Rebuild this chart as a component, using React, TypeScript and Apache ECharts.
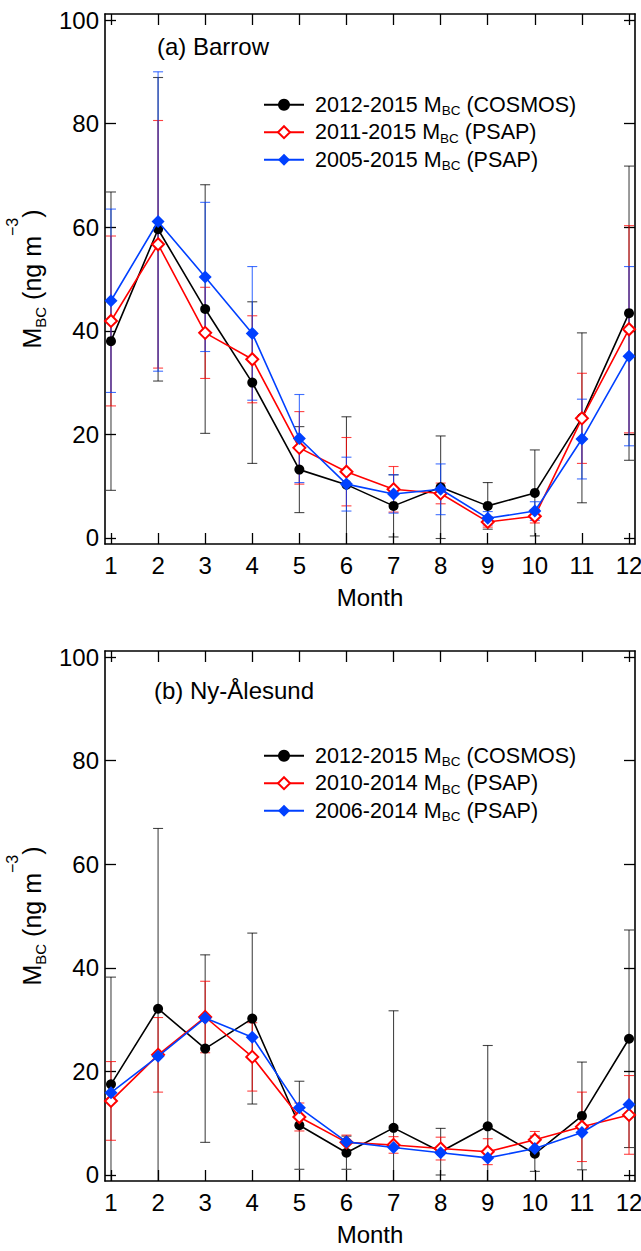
import React, { useEffect, useRef } from 'react';
import * as echarts from 'echarts';

// ---------- data ----------
const months = [1, 2, 3, 4, 5, 6, 7, 8, 9, 10, 11, 12];
const yTicks = [0, 20, 40, 60, 80, 100];

// (a) Barrow
const barrowCosmos = [38.0, 59.6, 44.2, 30.0, 13.2, 10.3, 6.2, 9.8, 6.2, 8.7, 23.2, 43.4];
const barrowCosmosSd = [28.8, 29.3, 24.0, 15.6, 8.3, 13.1, 6.0, 9.9, 4.5, 8.3, 16.4, 28.4];
const barrowPsapA = [41.9, 56.7, 39.6, 34.5, 17.4, 12.8, 9.4, 8.6, 3.1, 4.2, 23.1, 40.3];
const barrowPsapASd = [16.4, 23.9, 8.8, 8.4, 7.0, 6.6, 4.4, 2.0, 1.0, 1.3, 8.7, 20.0];
const barrowPsapB = [45.8, 61.1, 50.4, 39.5, 19.2, 10.4, 8.5, 9.4, 3.8, 5.2, 19.1, 35.1];
const barrowPsapBSd = [17.7, 28.9, 14.4, 12.9, 8.5, 5.2, 3.7, 4.9, 1.3, 1.8, 7.7, 17.3];

// (b) Ny-Ålesund
const nyCosmos = [17.5, 32.1, 24.4, 30.2, 9.6, 4.3, 9.1, 4.5, 9.4, 4.1, 11.4, 26.3];
const nyCosmosSd = [20.7, 34.8, 18.1, 16.5, 8.5, 3.2, 22.6, 4.5, 15.6, 3.4, 10.4, 21.0];
const nyPsapA = [14.3, 23.2, 30.5, 22.8, 11.2, 6.3, 5.8, 5.1, 4.5, 6.8, 9.3, 11.6];
const nyPsapASd = [7.6, 7.2, 6.9, 6.6, 2.7, 1.4, 1.6, 2.2, 2.5, 1.6, 6.7, 7.6];
const nyPsapB = [15.9, 22.9, 30.3, 26.6, 13.0, 6.4, 5.3, 4.3, 3.3, 5.1, 8.2, 13.6];

const legendPeriodsA = ['2012-2015', '2011-2015', '2005-2015'];
const legendPeriodsB = ['2012-2015', '2010-2014', '2006-2014'];
const legendInstruments = ['COSMOS', 'PSAP', 'PSAP'];
const panelTitles = ['(a) Barrow', '(b) Ny-Ålesund'];

// ---------- styling ----------
const FONT = '"Liberation Sans", Arial, Helvetica, sans-serif';
const BLACK = '#000000';
const RED = '#ff0000';
const BLUE = '#0040ff';
const ERR_BLACK = 'rgba(0,0,0,0.72)';
const ERR_RED = 'rgba(255,0,0,0.75)';
const ERR_BLUE = 'rgba(0,64,255,0.75)';
const X_MIN = 0.873;
const X_MAX = 12.127;
const Y_MIN = -1.16;
const Y_MAX = 101.16;

const axisLineStyle = { color: '#000', width: 1.6 };
const tickLineStyle = { color: '#000', width: 1.3 };

function makeXAxes(gridIndex: number) {
  const base: any = {
    type: 'value',
    gridIndex,
    min: X_MIN,
    max: X_MAX,
    splitLine: { show: false },
    axisLine: { show: true, onZero: false, lineStyle: axisLineStyle },
    axisTick: { show: true, inside: true, length: 11, customValues: months, lineStyle: tickLineStyle },
  };
  return [
    {
      ...base,
      position: 'bottom',
      axisLabel: { customValues: months, fontSize: 24, color: '#000', margin: 9, fontFamily: FONT },
      name: 'Month',
      nameLocation: 'middle',
      nameGap: 41,
      nameTextStyle: { fontSize: 24, color: '#000', fontFamily: FONT },
    },
    { ...base, position: 'top', axisLabel: { show: false } },
  ];
}

function makeYAxes(gridIndex: number) {
  const base: any = {
    type: 'value',
    gridIndex,
    min: Y_MIN,
    max: Y_MAX,
    splitLine: { show: false },
    axisLine: { show: true, onZero: false, lineStyle: axisLineStyle },
    axisTick: { show: true, inside: true, length: 11, customValues: yTicks, lineStyle: tickLineStyle },
  };
  return [
    {
      ...base,
      position: 'left',
      axisLabel: { customValues: yTicks, fontSize: 24, color: '#000', margin: 6, fontFamily: FONT },
      name: '{m|M}{s|BC}{m| (ng m}{p|−3}{m|)}',
      nameLocation: 'middle',
      nameRotate: 90,
      nameGap: 40,
      nameTextStyle: {
        rich: {
          m: { fontSize: 25, lineHeight: 56, color: '#000', fontFamily: FONT },
          s: { fontSize: 15, verticalAlign: 'bottom', padding: [0, 0, 12, 0], color: '#000', fontFamily: FONT },
          p: { fontSize: 16, lineHeight: 16, verticalAlign: 'top', color: '#000', fontFamily: FONT },
        },
      },
    },
    { ...base, position: 'right', axisLabel: { show: false } },
  ];
}

function errSeries(name: string, mean: number[], sd: number[], color: string, axisIdx: number) {
  return {
    type: 'custom',
    name,
    xAxisIndex: axisIdx,
    yAxisIndex: axisIdx,
    clip: true,
    z: 1,
    encode: { x: 0, y: [1, 2] },
    data: months.map((m, i) => [m, mean[i] - sd[i], mean[i] + sd[i]]),
    renderItem: (params: any, api: any) => {
      const x = api.value(0);
      const lo = api.coord([x, api.value(1)]);
      const hi = api.coord([x, api.value(2)]);
      const w = 5;
      const style = { stroke: color, lineWidth: 1.1 };
      return {
        type: 'group',
        children: [
          { type: 'line', shape: { x1: hi[0], y1: hi[1], x2: lo[0], y2: lo[1] }, style },
          { type: 'line', shape: { x1: hi[0] - w, y1: hi[1], x2: hi[0] + w, y2: hi[1] }, style },
          { type: 'line', shape: { x1: lo[0] - w, y1: lo[1], x2: lo[0] + w, y2: lo[1] }, style },
        ],
      };
    },
  };
}

function lineSeries(name: string, vals: number[], color: string, symbol: string, size: number, axisIdx: number, z: number) {
  return {
    type: 'line',
    name,
    xAxisIndex: axisIdx,
    yAxisIndex: axisIdx,
    z,
    data: months.map((m, i) => [m, vals[i]]),
    symbol,
    symbolSize: size,
    showAllSymbol: true,
    lineStyle: { color, width: 1.6 },
    itemStyle: { color, borderColor: color, borderWidth: symbol.indexOf('empty') === 0 ? 1.6 : 0 },
    emphasis: { disabled: true },
  };
}

const namesA = legendPeriodsA.map((p, i) => 'Barrow ' + p + ' ' + legendInstruments[i]);
const namesB = legendPeriodsB.map((p, i) => 'Ny-Alesund ' + p + ' ' + legendInstruments[i]);
const legendText: Record<string, string> = {};
namesA.forEach((n, i) => (legendText[n] = '{t| ' + legendPeriodsA[i] + ' M}{s|BC}{t| (' + legendInstruments[i] + ')}'));
namesB.forEach((n, i) => (legendText[n] = '{t| ' + legendPeriodsB[i] + ' M}{s|BC}{t| (' + legendInstruments[i] + ')}'));

const legendRich = {
  t: { fontSize: 21.5, lineHeight: 26, color: '#000', fontFamily: FONT },
  s: { fontSize: 13.5, lineHeight: 14, verticalAlign: 'bottom', color: '#000', fontFamily: FONT },
};

function makeLegend(names: string[], top: number) {
  return {
    orient: 'vertical',
    left: 263,
    top,
    padding: 0,
    itemWidth: 40,
    itemHeight: 15,
    itemGap: 3.5,
    selectedMode: false,
    data: names,
    formatter: (n: string) => legendText[n],
    textStyle: { rich: legendRich },
  };
}

const option: any = {
  animation: false,
  backgroundColor: '#ffffff',
  textStyle: { fontFamily: FONT },
  grid: [
    { left: 105, top: 14, width: 530, height: 530, containLabel: false, outerBoundsMode: 'none' },
    { left: 105, top: 651, width: 530, height: 530, containLabel: false, outerBoundsMode: 'none' },
  ],
  title: [
    { text: panelTitles[0], left: 157, top: 34, padding: 0, textStyle: { fontSize: 24, fontWeight: 'normal', color: '#000', fontFamily: FONT } },
    { text: panelTitles[1], left: 154, top: 678, padding: 0, textStyle: { fontSize: 24, fontWeight: 'normal', color: '#000', fontFamily: FONT } },
  ],
  legend: [makeLegend(namesA, 93.7), makeLegend(namesB, 744.7)],
  xAxis: [...makeXAxes(0), ...makeXAxes(1)],
  yAxis: [...makeYAxes(0), ...makeYAxes(1)],
  series: [
    errSeries('errA1', barrowCosmos, barrowCosmosSd, ERR_BLACK, 0),
    errSeries('errA2', barrowPsapA, barrowPsapASd, ERR_RED, 0),
    errSeries('errA3', barrowPsapB, barrowPsapBSd, ERR_BLUE, 0),
    lineSeries(namesA[0], barrowCosmos, BLACK, 'circle', 10, 0, 3),
    lineSeries(namesA[1], barrowPsapA, RED, 'emptyDiamond', 12, 0, 4),
    lineSeries(namesA[2], barrowPsapB, BLUE, 'diamond', 13, 0, 5),
    errSeries('errB1', nyCosmos, nyCosmosSd, ERR_BLACK, 2),
    errSeries('errB2', nyPsapA, nyPsapASd, ERR_RED, 2),
    lineSeries(namesB[0], nyCosmos, BLACK, 'circle', 10, 2, 3),
    lineSeries(namesB[1], nyPsapA, RED, 'emptyDiamond', 12, 2, 4),
    lineSeries(namesB[2], nyPsapB, BLUE, 'diamond', 13, 2, 5),
  ],
};

export default function App() {
  const ref = useRef<HTMLDivElement>(null);
  useEffect(() => {
    const chart = echarts.init(ref.current as HTMLDivElement, null, { renderer: 'svg' });
    chart.setOption(option);
    return () => chart.dispose();
  }, []);
  return (
    <div
      ref={ref}
      style={{ position: 'absolute', left: 0, top: 0, width: 641, height: 1251, background: '#fff' }}
    />
  );
}
